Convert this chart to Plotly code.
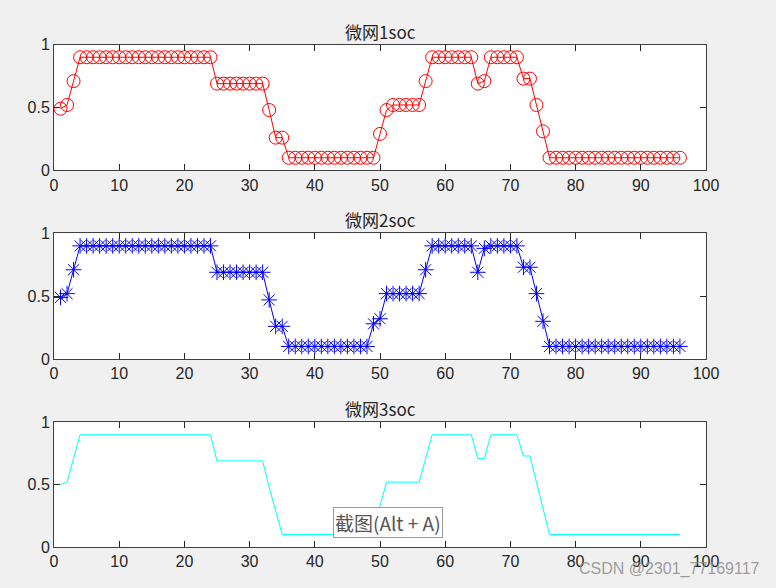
import plotly.graph_objects as go

x_steps = list(range(1, 97))

soc1 = [0.49, 0.52, 0.71,
        0.9, 0.9, 0.9, 0.9, 0.9, 0.9, 0.9, 0.9, 0.9, 0.9, 0.9, 0.9, 0.9, 0.9, 0.9, 0.9, 0.9, 0.9, 0.9, 0.9, 0.9,
        0.69, 0.69, 0.69, 0.69, 0.69, 0.69, 0.69, 0.69,
        0.48, 0.26, 0.26,
        0.1, 0.1, 0.1, 0.1, 0.1, 0.1, 0.1, 0.1, 0.1, 0.1, 0.1, 0.1, 0.1, 0.1,
        0.29, 0.48,
        0.52, 0.52, 0.52, 0.52, 0.52,
        0.71,
        0.9, 0.9, 0.9, 0.9, 0.9, 0.9, 0.9,
        0.69, 0.71,
        0.9, 0.9, 0.9, 0.9, 0.9,
        0.73, 0.73, 0.52, 0.31,
        0.1, 0.1, 0.1, 0.1, 0.1, 0.1, 0.1, 0.1, 0.1, 0.1, 0.1, 0.1, 0.1, 0.1, 0.1, 0.1, 0.1, 0.1, 0.1, 0.1, 0.1]

soc2 = [0.49, 0.52, 0.71,
        0.9, 0.9, 0.9, 0.9, 0.9, 0.9, 0.9, 0.9, 0.9, 0.9, 0.9, 0.9, 0.9, 0.9, 0.9, 0.9, 0.9, 0.9, 0.9, 0.9, 0.9,
        0.69, 0.69, 0.69, 0.69, 0.69, 0.69, 0.69, 0.69,
        0.47, 0.26, 0.26,
        0.1, 0.1, 0.1, 0.1, 0.1, 0.1, 0.1, 0.1, 0.1, 0.1, 0.1, 0.1, 0.1,
        0.28, 0.32,
        0.52, 0.52, 0.52, 0.52, 0.52, 0.52,
        0.71,
        0.9, 0.9, 0.9, 0.9, 0.9, 0.9, 0.9,
        0.69, 0.88,
        0.9, 0.9, 0.9, 0.9, 0.9,
        0.73, 0.73, 0.52, 0.3,
        0.1, 0.1, 0.1, 0.1, 0.1, 0.1, 0.1, 0.1, 0.1, 0.1, 0.1, 0.1, 0.1, 0.1, 0.1, 0.1, 0.1, 0.1, 0.1, 0.1, 0.1]

soc3 = [0.5, 0.52, 0.71,
        0.9, 0.9, 0.9, 0.9, 0.9, 0.9, 0.9, 0.9, 0.9, 0.9, 0.9, 0.9, 0.9, 0.9, 0.9, 0.9, 0.9, 0.9, 0.9, 0.9, 0.9,
        0.69, 0.69, 0.69, 0.69, 0.69, 0.69, 0.69, 0.69,
        0.48, 0.29,
        0.1, 0.1, 0.1, 0.1, 0.1, 0.1, 0.1, 0.1, 0.1, 0.1, 0.1, 0.1, 0.1, 0.1,
        0.28, 0.33,
        0.52, 0.52, 0.52, 0.52, 0.52, 0.52,
        0.71,
        0.9, 0.9, 0.9, 0.9, 0.9, 0.9, 0.9,
        0.71, 0.71,
        0.9, 0.9, 0.9, 0.9, 0.9,
        0.73, 0.73, 0.52, 0.31,
        0.1, 0.1, 0.1, 0.1, 0.1, 0.1, 0.1, 0.1, 0.1, 0.1, 0.1, 0.1, 0.1, 0.1, 0.1, 0.1, 0.1, 0.1, 0.1, 0.1, 0.1]

titles = ["微网1soc", "微网2soc", "微网3soc"]
x_ticks = [0, 10, 20, 30, 40, 50, 60, 70, 80, 90, 100]
y_ticks = [0, 0.5, 1]
y_tick_text = ["0", "0.5", "1"]

W, H = 776, 588
left_px, right_px = 54, 706
panels_px = [(44.7, 170.3), (233.3, 359.0), (422.3, 547.0)]

fig = go.Figure()

fig.add_trace(go.Scatter(x=x_steps, y=soc1, mode="lines+markers",
                         line=dict(color="#ff0000", width=1),
                         marker=dict(symbol="circle-open", size=13, color="#ff0000", line=dict(width=1)),
                         xaxis="x", yaxis="y", showlegend=False))
fig.add_trace(go.Scatter(x=x_steps, y=soc2, mode="lines+markers",
                         line=dict(color="#0000ff", width=1),
                         marker=dict(symbol="asterisk-open", size=13, color="#0000ff", line=dict(width=1, color="#0000ff")),
                         xaxis="x2", yaxis="y2", showlegend=False))
fig.add_trace(go.Scatter(x=x_steps, y=soc3, mode="lines",
                         line=dict(color="#00ffff", width=1),
                         xaxis="x3", yaxis="y3", showlegend=False))

axis_font = dict(family="Liberation Sans, Arial, sans-serif", size=16, color="#262626")
layout = dict(width=W, height=H, margin=dict(l=0, r=0, t=0, b=0, autoexpand=False),
              paper_bgcolor="#f0f0f0", plot_bgcolor="#ffffff")

annotations = []
for i, (top, bot) in enumerate(panels_px):
    suffix = "" if i == 0 else str(i + 1)
    ydom = [1 - bot / H, 1 - top / H]
    layout["xaxis" + suffix] = dict(
        domain=[left_px / W, right_px / W], range=[0, 100], tickvals=x_ticks,
        ticks="inside", ticklen=6, tickcolor="#262626", mirror="ticks",
        showline=True, linecolor="#404040", linewidth=1, showgrid=False, zeroline=False,
        tickfont=axis_font, anchor="y" + suffix, fixedrange=True, automargin=False)
    layout["yaxis" + suffix] = dict(
        domain=ydom, range=[0, 1], tickvals=y_ticks, ticktext=y_tick_text,
        ticks="inside", ticklen=6, tickcolor="#262626", mirror="ticks",
        showline=True, linecolor="#404040", linewidth=1, showgrid=False, zeroline=False,
        tickfont=axis_font, anchor="x" + suffix, fixedrange=True, automargin=False)
    annotations.append(dict(text=titles[i], x=(left_px + right_px) / 2 / W, y=1 - top / H,
                            xref="paper", yref="paper", xanchor="center", yanchor="bottom",
                            yshift=-1, showarrow=False,
                            font=dict(family="Noto Sans CJK SC, sans-serif", size=17, color="#262626")))

annotations.append(dict(text="截图(Alt + A)", x=388 / W, y=1 - 522 / H, xref="paper", yref="paper",
                        xanchor="center", yanchor="middle", showarrow=False,
                        bgcolor="#ffffff", bordercolor="#9a9a9a", borderwidth=1, borderpad=1,
                        font=dict(family="Noto Sans CJK SC, sans-serif", size=19, color="#555555")))
annotations.append(dict(text="CSDN @2301_77169117", x=669 / W, y=1 - 569 / H, xref="paper", yref="paper",
                        xanchor="center", yanchor="middle", showarrow=False,
                        font=dict(family="Liberation Sans, Arial, sans-serif", size=16, color="rgba(140,140,140,0.85)")))

layout["annotations"] = annotations
fig.update_layout(**layout)
fig.write_html("out.html", config={"displayModeBar": False},
               post_script="document.body.style.margin='0';document.body.style.overflow='hidden';")
